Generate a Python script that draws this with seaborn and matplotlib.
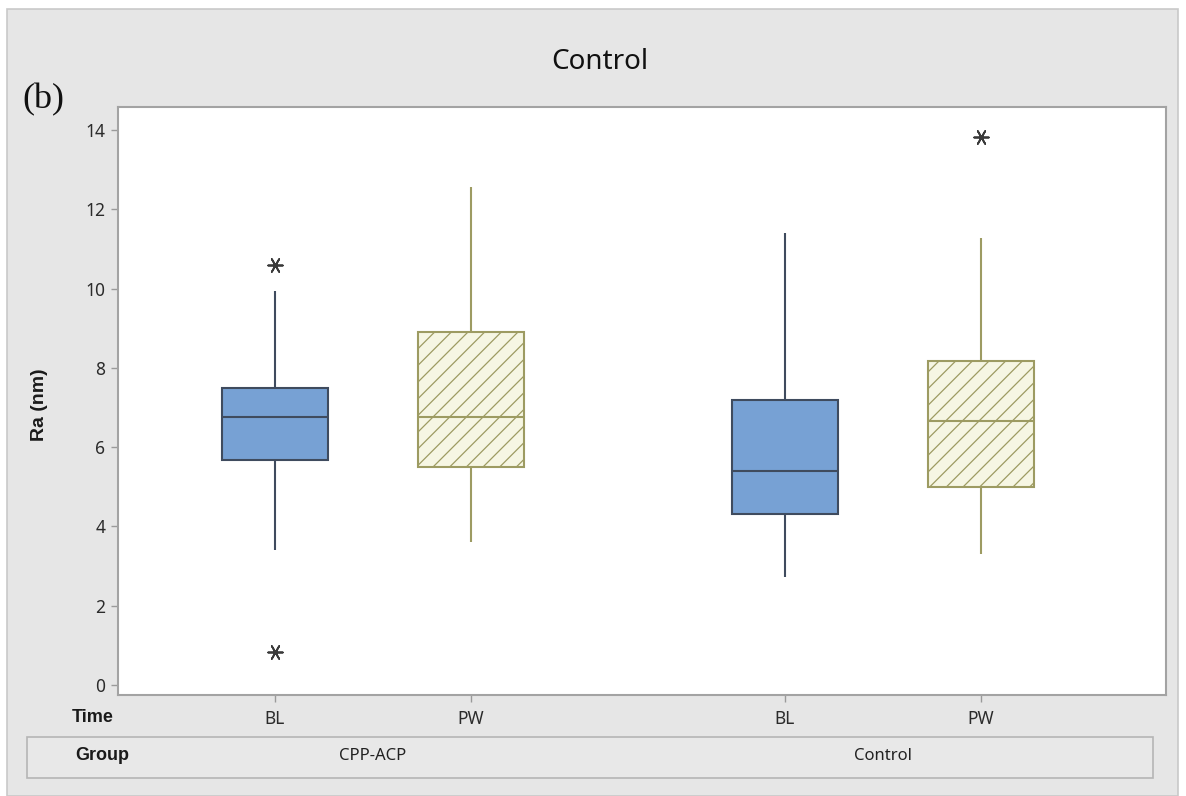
import numpy as np
import pandas as pd
import matplotlib
matplotlib.use("Agg")
import matplotlib.pyplot as plt
from matplotlib.patches import Rectangle
import seaborn as sns

# summary values (Ra in nm)
group_names = ["CPP-ACP", "Control"]
time_names = ["BL", "PW"]
groups = ["CPP-ACP", "CPP-ACP", "Control", "Control"]
times = ["BL", "PW", "BL", "PW"]
whisker_low = [3.41, 3.62, 2.72, 3.30]
q1 = [5.68, 5.51, 4.31, 4.99]
median = [6.77, 6.77, 5.41, 6.66]
q3 = [7.50, 8.91, 7.19, 8.18]
whisker_high = [9.95, 12.55, 11.39, 11.27]

outlier_group = ["CPP-ACP", "CPP-ACP", "Control"]
outlier_time = ["BL", "BL", "PW"]
outlier_value = [10.6, 0.84, 13.82]

y_ticks = [0, 2, 4, 6, 8, 10, 12, 14]

# long table: five summary points per box give the same quartiles/whiskers
rows = []
for i in range(len(groups)):
    for v in (whisker_low[i], q1[i], median[i], q3[i], whisker_high[i]):
        rows.append({"Group": groups[i], "Time": times[i], "Ra": v})
df = pd.DataFrame(rows)
gpos = {g: k for k, g in enumerate(group_names)}
df["gx"] = df["Group"].map(gpos)

W, H = 1186, 796
sns.set_style("white")
plt.rcParams["font.family"] = ["Noto Sans", "DejaVu Sans"]
plt.rcParams["hatch.linewidth"] = 0.9
bold_font = ["Liberation Sans", "DejaVu Sans"]

fig = plt.figure(figsize=(W / 100, H / 100), dpi=100, facecolor="white")
fig.patches.append(Rectangle((7 / W, 0), (1178 - 7) / W, (H - 9) / H,
                             transform=fig.transFigure, facecolor="#e6e6e6",
                             edgecolor="#c9c9c9", linewidth=1.2, zorder=-5))

ax = fig.add_axes([118 / W, 1 - 695 / H, (1166 - 118) / W, (695 - 107) / H])
ax.set_zorder(3)
ax.set_facecolor("white")

width = 0.77
gap = 0.46
blue_fill, blue_line = "#77a1d4", "#3f4b5e"
pale_fill, pale_line = "#f6f6e3", "#9d9b62"

common = dict(x="gx", y="Ra", hue="Time", hue_order=time_names,
              native_scale=True, width=width, gap=gap, dodge=True,
              saturation=1, showfliers=False, legend=False, ax=ax,
              capprops={"linewidth": 0})

sns.boxplot(data=df[df["Time"] == "BL"], palette={"BL": blue_fill, "PW": pale_fill},
            linecolor=blue_line, linewidth=1.5, **common)
n_before = len(ax.patches)
sns.boxplot(data=df[df["Time"] == "PW"], palette={"BL": blue_fill, "PW": pale_fill},
            linecolor=pale_line, linewidth=1.5, **common)
for p in ax.patches[n_before:]:
    p.set_hatch("//")
    p.set_edgecolor(pale_line)

# outliers drawn as asterisks
offset = {"BL": -width / 4, "PW": width / 4}
out_x = [gpos[g] + offset[t] for g, t in zip(outlier_group, outlier_time)]
sns.scatterplot(x=out_x, y=outlier_value, marker=(6, 2, 90), s=110,
                color="#3a3a3a", linewidth=1.3, ax=ax, zorder=5)

ax.set_xlim(-0.5, 1.555)
ax.set_ylim(-0.25, 14.58)
tick_x = [gpos[g] + offset[t] for g, t in zip(groups, times)]
ax.set_xticks(tick_x, labels=times)
ax.set_yticks(y_ticks, labels=[str(t) for t in y_ticks])
ax.set_xlabel("")
ax.set_ylabel("")
ax.tick_params(axis="both", left=True, bottom=True, length=5, width=1,
               color="#9a9a9a", labelsize=12.5, labelcolor="#2b2b2b")
ax.tick_params(axis="x", pad=6)
ax.tick_params(axis="y", pad=4)
for s in ax.spines.values():
    s.set_visible(True)
    s.set_color("#a3a3a3")
    s.set_linewidth(1.5)

# texts around the plot
fig.text(600 / W, 1 - 62 / H, "Control", ha="center", va="center",
         fontsize=20, fontweight="medium", color="#111111")
fig.text(22 / W, 1 - 100 / H, "(b)", ha="left", va="center", fontsize=26,
         family=["Liberation Serif", "DejaVu Serif"], color="#111111")
fig.text(40 / W, 1 - 405 / H, "Ra (nm)", rotation=90, ha="center", va="center",
         fontsize=14, fontweight="bold", family=bold_font, color="#1a1a1a")
fig.text(72 / W, 1 - 717 / H, "Time", ha="left", va="center",
         fontsize=13, fontweight="bold", family=bold_font, color="#1a1a1a")

# group band under the axis
fig.patches.append(Rectangle((27 / W, 1 - 778 / H), (1153 - 27) / W, (778 - 737) / H,
                             transform=fig.transFigure, facecolor="#e8e8e8",
                             edgecolor="#b5b5b5", linewidth=1.2, zorder=-4))
fig.text(75 / W, 1 - 755 / H, "Group", ha="left", va="center",
         fontsize=13, fontweight="bold", family=bold_font, color="#1a1a1a")
for g in group_names:
    gx_fig = (118 + (gpos[g] + 0.5) / 2.055 * (1166 - 118)) / W
    fig.text(gx_fig, 1 - 756 / H, g, ha="center", va="center",
             fontsize=12, color="#222222")

fig.savefig("out.png", dpi=100, facecolor=fig.get_facecolor())
